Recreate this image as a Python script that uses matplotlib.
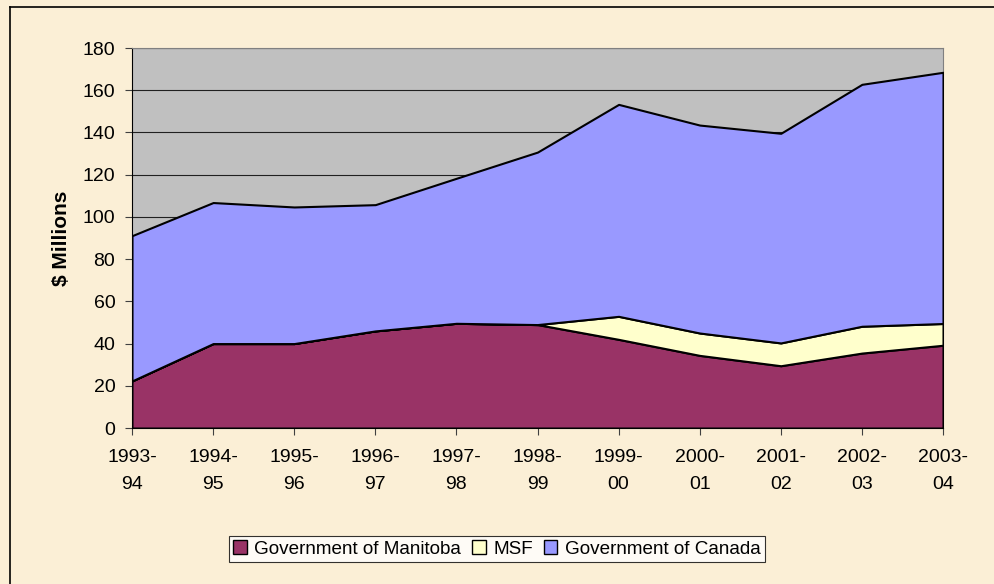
import matplotlib.pyplot as plt
from matplotlib.lines import Line2D

plt.rcParams['font.family'] = ['Liberation Sans', 'DejaVu Sans']

years = ['1993-\n94', '1994-\n95', '1995-\n96', '1996-\n97', '1997-\n98', '1998-\n99',
         '1999-\n00', '2000-\n01', '2001-\n02', '2002-\n03', '2003-\n04']
manitoba = [22.3, 40.0, 40.0, 46.0, 49.6, 49.0, 42.0, 34.4, 29.5, 35.5, 39.2]
msf = [0, 0, 0, 0, 0, 0, 10.9, 10.6, 10.8, 12.7, 10.3]
canada = [68.8, 66.8, 64.7, 59.8, 68.7, 81.7, 100.4, 98.5, 99.3, 114.6, 119.0]
labels = ['Government of Manitoba', 'MSF', 'Government of Canada']
colors = ['#993366', '#FFFFCC', '#9999FF']

bg = '#FBEFD6'
fig = plt.figure(figsize=(9.94, 5.84), dpi=100, facecolor=bg)
ax = fig.add_axes([0.1328, 0.2671, 0.8159, 0.6507])
ax.set_facecolor('#C0C0C0')

x = list(range(len(years)))
ax.stackplot(x, manitoba, msf, canada, colors=colors, labels=labels,
             edgecolor='black', linewidth=1.5, zorder=3)

ax.set_xlim(0, len(years) - 1)
ax.set_ylim(0, 180)
ax.set_yticks(range(0, 181, 20))
ax.set_xticks(x)
ax.set_xticklabels(years, fontsize=14, linespacing=1.75)
ax.tick_params(axis='y', labelsize=14, length=5, color='#404040', pad=7)
ax.tick_params(axis='x', length=5, color='#404040', pad=10)
ax.yaxis.grid(True, color='#202020', linewidth=0.8, zorder=1)
ax.set_axisbelow(True)
for s in ['top', 'right']:
    ax.spines[s].set_color('#808080')
for s in ['left', 'bottom']:
    ax.spines[s].set_color('black')

ax.set_ylabel('$ Millions', fontsize=15, fontweight='bold', labelpad=8)

leg = fig.legend(loc='center', bbox_to_anchor=(0.5, 0.06), ncol=3, fontsize=13.6,
                 frameon=True, fancybox=False, edgecolor='black', handlelength=0.7,
                 handleheight=0.7, handletextpad=0.4, columnspacing=0.6,
                 borderpad=0.25)
leg.get_frame().set_facecolor('white')
leg.get_frame().set_linewidth(0.8)
for h in leg.legend_handles:
    h.set_edgecolor('black')
    h.set_linewidth(1.0)

fig.add_artist(Line2D([10 / 994, 10 / 994], [0, 1 - 7 / 584], color='black', lw=1.2))
fig.add_artist(Line2D([10 / 994, 1], [1 - 7 / 584, 1 - 7 / 584], color='black', lw=1.2))

fig.savefig('out.png', dpi=100, facecolor=bg)
